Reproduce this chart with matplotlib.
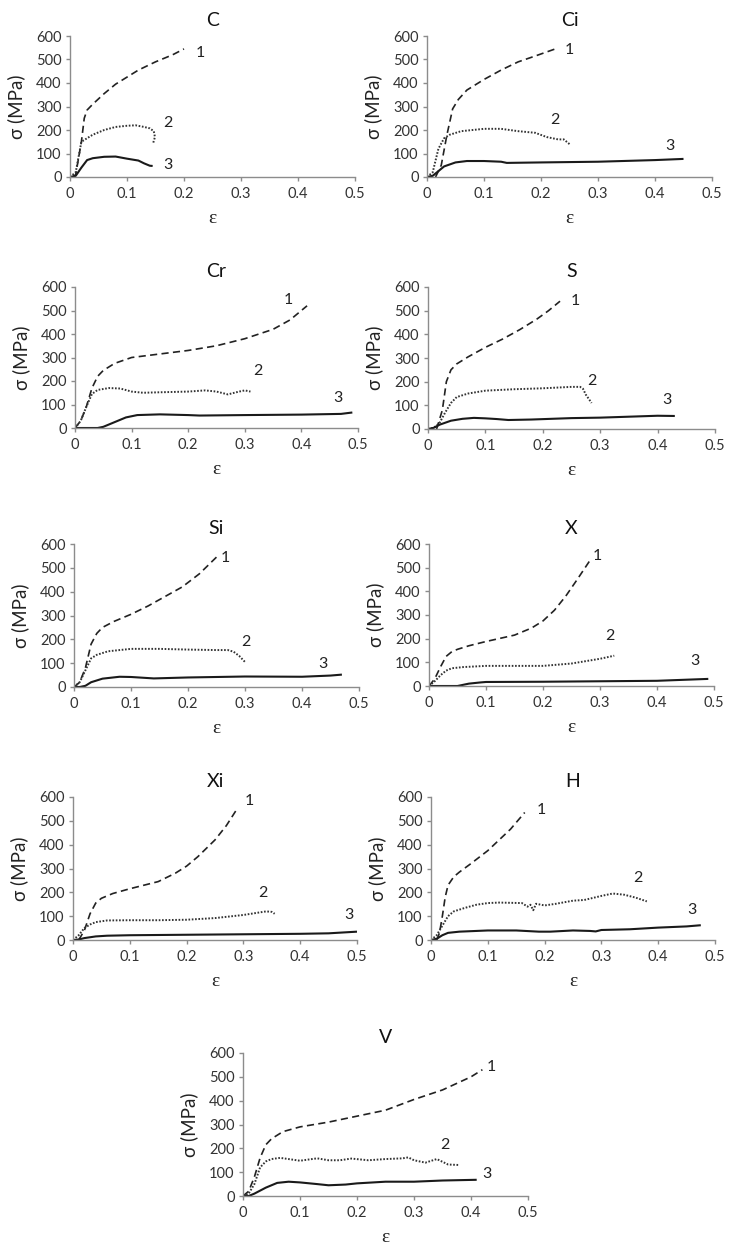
import matplotlib
matplotlib.use("Agg")
import matplotlib.pyplot as plt

plt.rcParams["font.family"] = ["Lato", "DejaVu Sans"]

# ---- data: strain (eps) and stress (MPa) ----
C1_eps = [0.005, 0.01, 0.02, 0.025, 0.03, 0.04, 0.06, 0.08, 0.1, 0.12, 0.15, 0.18, 0.2]
C1_sig = [0, 10, 150, 250, 285, 310, 355, 395, 425, 455, 490, 520, 545]
C2_eps = [0, 0.01, 0.02, 0.04, 0.06, 0.08, 0.1, 0.115, 0.13, 0.14, 0.147, 0.149, 0.146]
C2_sig = [0, 20, 150, 180, 200, 213, 218, 220, 213, 207, 195, 170, 145]
C3_eps = [0, 0.01, 0.02, 0.03, 0.04, 0.06, 0.08, 0.1, 0.12, 0.13, 0.14, 0.145]
C3_sig = [0, 5, 40, 72, 80, 86, 87, 78, 70, 58, 48, 47]

Ci1_eps = [0.015, 0.025, 0.035, 0.045, 0.055, 0.07, 0.1, 0.13, 0.16, 0.19, 0.225]
Ci1_sig = [0, 50, 180, 290, 330, 370, 415, 455, 490, 515, 545]
Ci2_eps = [0, 0.01, 0.02, 0.03, 0.04, 0.06, 0.1, 0.13, 0.16, 0.19, 0.21, 0.23, 0.24, 0.25]
Ci2_sig = [0, 20, 120, 165, 180, 195, 205, 205, 195, 188, 170, 160, 160, 140]
Ci3_eps = [0, 0.01, 0.02, 0.03, 0.05, 0.07, 0.1, 0.13, 0.14, 0.2, 0.3, 0.4, 0.45]
Ci3_sig = [0, 5, 25, 45, 62, 68, 68, 65, 60, 62, 65, 72, 77]

Cr1_eps = [0, 0.01, 0.02, 0.03, 0.04, 0.05, 0.07, 0.1, 0.15, 0.2, 0.25, 0.3, 0.35, 0.38, 0.41]
Cr1_sig = [0, 30, 90, 170, 220, 245, 275, 300, 315, 330, 350, 380, 420, 460, 520]
Cr2_eps = [0, 0.01, 0.02, 0.03, 0.04, 0.06, 0.08, 0.1, 0.12, 0.15, 0.2, 0.23, 0.25, 0.27, 0.29, 0.3, 0.31]
Cr2_sig = [0, 30, 90, 145, 162, 170, 168, 155, 150, 152, 155, 160, 155, 143, 155, 160, 155]
Cr3_eps = [0, 0.04, 0.05, 0.07, 0.09, 0.11, 0.15, 0.2, 0.22, 0.3, 0.4, 0.47, 0.49]
Cr3_sig = [0, 0, 5, 25, 45, 55, 58, 55, 53, 55, 57, 60, 66]

S1_eps = [0.015, 0.025, 0.032, 0.04, 0.05, 0.07, 0.1, 0.13, 0.16, 0.19, 0.21, 0.23]
S1_sig = [0, 80, 200, 250, 275, 305, 345, 380, 420, 465, 500, 540]
S2_eps = [0, 0.01, 0.02, 0.03, 0.04, 0.05, 0.07, 0.1, 0.15, 0.2, 0.25, 0.265, 0.27, 0.275, 0.285]
S2_sig = [0, 5, 25, 70, 110, 135, 150, 162, 168, 172, 178, 178, 170, 145, 110]
S3_eps = [0, 0.01, 0.02, 0.04, 0.06, 0.08, 0.1, 0.12, 0.14, 0.18, 0.25, 0.3, 0.35, 0.4, 0.43]
S3_sig = [0, 5, 18, 35, 43, 47, 45, 42, 38, 40, 46, 48, 52, 56, 55]

Si1_eps = [0, 0.01, 0.02, 0.03, 0.04, 0.05, 0.07, 0.1, 0.13, 0.16, 0.19, 0.22, 0.25]
Si1_sig = [0, 20, 80, 180, 225, 250, 275, 305, 340, 380, 420, 475, 545]
Si2_eps = [0, 0.01, 0.02, 0.03, 0.04, 0.06, 0.1, 0.15, 0.2, 0.25, 0.27, 0.28, 0.29, 0.3]
Si2_sig = [0, 20, 70, 120, 135, 150, 160, 160, 157, 155, 155, 148, 130, 105]
Si3_eps = [0, 0.01, 0.02, 0.03, 0.05, 0.08, 0.1, 0.14, 0.2, 0.3, 0.4, 0.45, 0.47]
Si3_sig = [0, 0, 5, 20, 35, 43, 42, 36, 40, 44, 43, 48, 52]

X1_eps = [0, 0.01, 0.02, 0.03, 0.04, 0.05, 0.07, 0.1, 0.15, 0.18, 0.2, 0.22, 0.24, 0.26, 0.285]
X1_sig = [0, 30, 80, 125, 145, 155, 170, 188, 215, 245, 275, 320, 380, 450, 540]
X2_eps = [0, 0.01, 0.02, 0.03, 0.04, 0.06, 0.1, 0.15, 0.2, 0.25, 0.3, 0.325]
X2_sig = [0, 20, 45, 65, 75, 80, 85, 85, 85, 95, 115, 128]
X3_eps = [0, 0.05, 0.07, 0.09, 0.1, 0.2, 0.3, 0.4, 0.49]
X3_sig = [0, 0, 10, 15, 17, 18, 20, 22, 30]

Xi1_eps = [0.01, 0.02, 0.03, 0.04, 0.05, 0.07, 0.1, 0.15, 0.18, 0.2, 0.22, 0.25, 0.27, 0.288]
Xi1_sig = [0, 40, 110, 155, 175, 195, 215, 245, 280, 310, 350, 420, 480, 547]
Xi2_eps = [0, 0.01, 0.02, 0.03, 0.04, 0.06, 0.1, 0.15, 0.2, 0.25, 0.3, 0.34, 0.35, 0.355]
Xi2_sig = [0, 20, 50, 65, 75, 82, 83, 83, 85, 92, 105, 120, 118, 110]
Xi3_eps = [0, 0.01, 0.02, 0.04, 0.06, 0.1, 0.2, 0.3, 0.4, 0.45, 0.5]
Xi3_sig = [0, 2, 8, 15, 18, 20, 22, 24, 26, 28, 35]

H1_eps = [0.01, 0.015, 0.02, 0.025, 0.03, 0.04, 0.05, 0.07, 0.1, 0.12, 0.14, 0.165]
H1_sig = [0, 30, 100, 180, 230, 265, 285, 320, 375, 420, 465, 535]
H2_eps = [0, 0.01, 0.02, 0.03, 0.04, 0.06, 0.08, 0.1, 0.12, 0.16, 0.17, 0.175, 0.18, 0.185,
          0.2, 0.22, 0.25, 0.27, 0.3, 0.32, 0.34, 0.36, 0.38]
H2_sig = [0, 20, 60, 100, 120, 135, 148, 155, 157, 155, 140, 148, 125, 152,
          145, 152, 165, 168, 185, 195, 190, 178, 162]
H3_eps = [0, 0.01, 0.02, 0.03, 0.05, 0.1, 0.15, 0.19, 0.21, 0.25, 0.28, 0.29, 0.3, 0.35, 0.4, 0.45, 0.475]
H3_sig = [0, 5, 20, 30, 35, 40, 40, 35, 35, 40, 38, 36, 42, 45, 52, 57, 62]

V1_eps = [0, 0.01, 0.02, 0.03, 0.04, 0.05, 0.07, 0.1, 0.15, 0.2, 0.25, 0.3, 0.35, 0.4, 0.42]
V1_sig = [0, 20, 80, 160, 215, 240, 270, 290, 310, 335, 360, 405, 445, 500, 530]
V2_eps = [0, 0.01, 0.02, 0.03, 0.04, 0.05, 0.065, 0.08, 0.1, 0.13, 0.15, 0.17, 0.19, 0.22,
          0.25, 0.28, 0.29, 0.3, 0.32, 0.34, 0.36, 0.38]
V2_sig = [0, 10, 50, 120, 145, 155, 160, 155, 148, 158, 150, 150, 157, 150,
          155, 158, 162, 150, 140, 155, 132, 130]
V3_eps = [0, 0.01, 0.02, 0.04, 0.06, 0.08, 0.1, 0.13, 0.15, 0.18, 0.2, 0.25, 0.3, 0.35, 0.41]
V3_sig = [0, 0, 10, 35, 55, 60, 57, 50, 45, 48, 53, 60, 60, 65, 68]

panel_titles = ["C", "Ci", "Cr", "S", "Si", "X", "Xi", "H", "V"]
curve_names = ["1", "2", "3"]
x_ticks = [0, 0.1, 0.2, 0.3, 0.4, 0.5]
x_tick_labels = ["0", "0.1", "0.2", "0.3", "0.4", "0.5"]
y_ticks = [0, 100, 200, 300, 400, 500, 600]

curves = {
    "C": [(C1_eps, C1_sig), (C2_eps, C2_sig), (C3_eps, C3_sig)],
    "Ci": [(Ci1_eps, Ci1_sig), (Ci2_eps, Ci2_sig), (Ci3_eps, Ci3_sig)],
    "Cr": [(Cr1_eps, Cr1_sig), (Cr2_eps, Cr2_sig), (Cr3_eps, Cr3_sig)],
    "S": [(S1_eps, S1_sig), (S2_eps, S2_sig), (S3_eps, S3_sig)],
    "Si": [(Si1_eps, Si1_sig), (Si2_eps, Si2_sig), (Si3_eps, Si3_sig)],
    "X": [(X1_eps, X1_sig), (X2_eps, X2_sig), (X3_eps, X3_sig)],
    "Xi": [(Xi1_eps, Xi1_sig), (Xi2_eps, Xi2_sig), (Xi3_eps, Xi3_sig)],
    "H": [(H1_eps, H1_sig), (H2_eps, H2_sig), (H3_eps, H3_sig)],
    "V": [(V1_eps, V1_sig), (V2_eps, V2_sig), (V3_eps, V3_sig)],
}

# ---- layout (pixels: left, top, right, bottom) and curve-label spots ----
W, H = 730, 1248
boxes = {
    "C": (70, 36, 355, 177), "Ci": (427, 36, 712, 177),
    "Cr": (75, 287, 358, 428), "S": (428, 287, 715, 429),
    "Si": (74, 544, 359, 687), "X": (429, 544, 714, 686),
    "Xi": (73, 797, 357, 940), "H": (431, 797, 715, 940),
    "V": (243, 1053, 528, 1196),
}
label_pos = {
    "C": [(0.228, 526), (0.171, 228), (0.171, 50)],
    "Ci": [(0.25, 540), (0.224, 243), (0.427, 130)],
    "Cr": [(0.376, 546), (0.324, 241), (0.465, 128)],
    "S": [(0.256, 539), (0.285, 201), (0.416, 124)],
    "Si": [(0.266, 540), (0.301, 189), (0.436, 98)],
    "X": [(0.295, 549), (0.318, 213), (0.467, 107)],
    "Xi": [(0.31, 582), (0.335, 196), (0.486, 105)],
    "H": [(0.194, 547), (0.365, 259), (0.459, 126)],
    "V": [(0.436, 541), (0.354, 213), (0.428, 91)],
}
styles = [
    dict(color="#222222", lw=1.2, dashes=(4.3, 2.6)),
    dict(color="#333333", lw=1.4, dashes=(0.85, 0.85)),
    dict(color="#1a1a1a", lw=1.5, linestyle="-"),
]
axis_col = "#8c8c8c"
text_col = "#333333"

fig = plt.figure(figsize=(W / 100, H / 100), dpi=100)

for name in panel_titles:
    l, t, r, b = boxes[name]
    ax = fig.add_axes([l / W, 1 - b / H, (r - l) / W, (b - t) / H])
    for (xs, ys), st in zip(curves[name], styles):
        ax.plot(xs, ys, solid_capstyle="butt", dash_capstyle="butt", **st)
    for (lx, ly), txt in zip(label_pos[name], curve_names):
        ax.text(lx, ly, txt, fontsize=11.5, color="#222222", ha="center", va="center")

    ax.set_xlim(0, 0.5)
    ax.set_ylim(0, 600)
    ax.set_xticks(x_ticks)
    ax.set_xticklabels(x_tick_labels)
    ax.set_yticks(y_ticks)
    for side in ("top", "right"):
        ax.spines[side].set_visible(False)
    for side in ("left", "bottom"):
        ax.spines[side].set_color(axis_col)
        ax.spines[side].set_linewidth(1.0)
    ax.tick_params(direction="out", length=3, width=1.0, color=axis_col,
                   labelsize=10.5, labelcolor=text_col, pad=3)
    ax.tick_params(axis="x", pad=4)
    ax.set_title(name, fontsize=14, color="#111111", pad=7)
    ax.set_ylabel("σ (MPa)", fontsize=13.5, color="#222222", labelpad=8)
    ax.set_xlabel("ε", fontsize=14, color="#222222", labelpad=7,
                  family=["Liberation Serif", "DejaVu Serif"])

fig.savefig("out.png", dpi=100, facecolor="white")
